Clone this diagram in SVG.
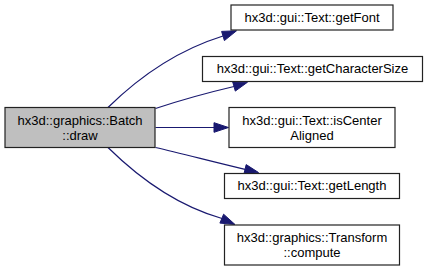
<svg xmlns="http://www.w3.org/2000/svg" width="427" height="271" viewBox="0 0 427 271">
  <defs>
    <style>
      .node rect { fill: #ffffff; stroke: #222222; stroke-width: 1.2; }
      .node.focus rect { fill: #bfbfbf; }
      .node text { font-family: "Liberation Sans", Arial, sans-serif; font-size: 13px; fill: #000000; text-anchor: middle; }
      .edge path { fill: none; stroke: #191970; stroke-width: 1.2; }
      .edge polygon { fill: #191970; stroke: #191970; stroke-width: 1; }
    </style>
  </defs>

  <rect x="0" y="0" width="427" height="271" fill="#ffffff"/>

  <!-- call edges from Batch::draw -->
  <g id="edges">
    <g class="edge" id="edge-getFont">
      <path d="M108,107.5 C138,78 178,50 223,36"/>
      <polygon points="236.5,30.8 221.6,31.4 224.4,40.6"/>
    </g>
    <g class="edge" id="edge-getCharacterSize">
      <path d="M155.5,108.5 C175,102 202,94 234,86.5"/>
      <polygon points="247.5,82.2 232.7,81.9 235.3,91.1"/>
    </g>
    <g class="edge" id="edge-isCenterAligned">
      <path d="M155.5,127.5 H214"/>
      <polygon points="228.5,127.5 214,122.7 214,132.3"/>
    </g>
    <g class="edge" id="edge-getLength">
      <path d="M155.5,147.5 C180,153 210,161 245,169.3"/>
      <polygon points="258.5,172.5 246.2,164.6 243.9,174"/>
    </g>
    <g class="edge" id="edge-compute">
      <path d="M108,147.5 C138,177 178,206 222,218.5"/>
      <polygon points="235,224.5 223.6,214.2 219.9,223.1"/>
    </g>
  </g>

  <!-- focus node -->
  <g class="node focus" id="node-batch-draw">
    <rect x="5" y="107.5" width="150" height="40"/>
    <text x="80" y="124.5">hx3d::graphics::Batch</text>
    <text x="80" y="139.5">::draw</text>
  </g>

  <!-- callees -->
  <g class="node" id="node-getFont">
    <rect x="231" y="5" width="162" height="25"/>
    <text x="312" y="21.5">hx3d::gui::Text::getFont</text>
  </g>

  <g class="node" id="node-getCharacterSize">
    <rect x="202.5" y="56.5" width="220" height="25"/>
    <text x="312.5" y="73">hx3d::gui::Text::getCharacterSize</text>
  </g>

  <g class="node" id="node-isCenterAligned">
    <rect x="229" y="107.5" width="166" height="40"/>
    <text x="312" y="124.5">hx3d::gui::Text::isCenter</text>
    <text x="312" y="139.5">Aligned</text>
  </g>

  <g class="node" id="node-getLength">
    <rect x="224.5" y="173.5" width="175" height="25"/>
    <text x="312" y="190">hx3d::gui::Text::getLength</text>
  </g>

  <g class="node" id="node-transform-compute">
    <rect x="224.5" y="225" width="175" height="40"/>
    <text x="312" y="242">hx3d::graphics::Transform</text>
    <text x="312" y="257">::compute</text>
  </g>
</svg>
